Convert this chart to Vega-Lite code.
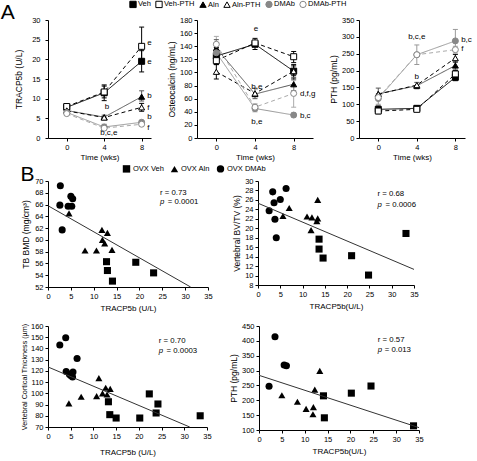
{
  "$schema": "https://vega.github.io/schema/vega-lite/v6.json",
  "background": "white",
  "padding": {"left": 0, "top": 0, "right": 0, "bottom": 0},
  "spacing": 2,
  "config": {
    "font": "Liberation Sans",
    "view": {"stroke": null},
    "axis": {"grid": false, "domainColor": "#000", "tickColor": "#000", "labelColor": "#000", "titleColor": "#000", "labelFontSize": 7.5, "titleFontSize": 8.5, "titleFontWeight": "normal", "tickSize": 3, "labelPadding": 2, "titlePadding": 3, "labelFlush": false, "labelOverlap": false, "tickCount": 40},
    "axisX": {"titleFontSize": 8},
    "legend": {"labelFontSize": 7.5, "labelColor": "#000", "padding": 0},
    "title": {"fontSize": 21, "fontWeight": "normal", "anchor": "start", "frame": "bounds", "color": "#000"}
  },
  "datasets": {
    "tracp": [
      {"g": "Veh", "w": 0, "v": 7.8, "lo": 7.0, "hi": 8.6},
      {"g": "Veh", "w": 4, "v": 11.5, "lo": 9.5, "hi": 13.5},
      {"g": "Veh", "w": 8, "v": 19.5, "lo": 16.8, "hi": 22.2},
      {"g": "Veh-PTH", "w": 0, "v": 8.0},
      {"g": "Veh-PTH", "w": 4, "v": 11.7, "lo": 10.2, "hi": 13.2},
      {"g": "Veh-PTH", "w": 8, "v": 23.3, "lo": 19.3, "hi": 28.2},
      {"g": "Aln", "w": 0, "v": 7.0},
      {"g": "Aln", "w": 4, "v": 5.3, "lo": 4.8, "hi": 5.8},
      {"g": "Aln", "w": 8, "v": 10.5, "lo": 9.4, "hi": 12.0},
      {"g": "Aln-PTH", "w": 0, "v": 6.9},
      {"g": "Aln-PTH", "w": 4, "v": 5.2},
      {"g": "Aln-PTH", "w": 8, "v": 7.8, "lo": 6.8, "hi": 8.8},
      {"g": "DMAb", "w": 0, "v": 6.5, "lo": 5.9, "hi": 7.1},
      {"g": "DMAb", "w": 4, "v": 2.8, "lo": 2.0, "hi": 3.5},
      {"g": "DMAb", "w": 8, "v": 4.0, "lo": 3.5, "hi": 4.5},
      {"g": "DMAb-PTH", "w": 0, "v": 6.2},
      {"g": "DMAb-PTH", "w": 4, "v": 2.5},
      {"g": "DMAb-PTH", "w": 8, "v": 3.5}
    ],
    "osteo": [
      {"g": "Veh", "w": 0, "v": 125, "lo": 112, "hi": 138},
      {"g": "Veh", "w": 4, "v": 143, "lo": 135, "hi": 152},
      {"g": "Veh", "w": 8, "v": 102, "lo": 90, "hi": 112},
      {"g": "Veh-PTH", "w": 0, "v": 118},
      {"g": "Veh-PTH", "w": 4, "v": 145},
      {"g": "Veh-PTH", "w": 8, "v": 124, "lo": 115, "hi": 132},
      {"g": "Aln", "w": 0, "v": 137, "lo": 125, "hi": 150},
      {"g": "Aln", "w": 4, "v": 67, "lo": 60, "hi": 76},
      {"g": "Aln", "w": 8, "v": 82, "lo": 72, "hi": 92},
      {"g": "Aln-PTH", "w": 0, "v": 101, "lo": 90, "hi": 112},
      {"g": "Aln-PTH", "w": 4, "v": 68},
      {"g": "Aln-PTH", "w": 8, "v": 102, "lo": 95, "hi": 110},
      {"g": "DMAb", "w": 0, "v": 130},
      {"g": "DMAb", "w": 4, "v": 45, "lo": 40, "hi": 52},
      {"g": "DMAb", "w": 8, "v": 35, "lo": 32, "hi": 38},
      {"g": "DMAb-PTH", "w": 0, "v": 143, "lo": 130, "hi": 155},
      {"g": "DMAb-PTH", "w": 4, "v": 47},
      {"g": "DMAb-PTH", "w": 8, "v": 68, "lo": 47, "hi": 88}
    ],
    "pth": [
      {"g": "Veh", "w": 0, "v": 85, "lo": 75, "hi": 95},
      {"g": "Veh", "w": 4, "v": 88, "lo": 82, "hi": 94},
      {"g": "Veh", "w": 8, "v": 180, "lo": 170, "hi": 190},
      {"g": "Veh-PTH", "w": 0, "v": 80, "lo": 72, "hi": 88},
      {"g": "Veh-PTH", "w": 4, "v": 85, "lo": 80, "hi": 90},
      {"g": "Veh-PTH", "w": 8, "v": 190, "lo": 180, "hi": 200},
      {"g": "Aln", "w": 0, "v": 131, "lo": 115, "hi": 148},
      {"g": "Aln", "w": 4, "v": 155, "lo": 146, "hi": 165},
      {"g": "Aln", "w": 8, "v": 215, "lo": 202, "hi": 228},
      {"g": "Aln-PTH", "w": 0, "v": 130},
      {"g": "Aln-PTH", "w": 4, "v": 157},
      {"g": "Aln-PTH", "w": 8, "v": 237, "lo": 225, "hi": 248},
      {"g": "DMAb", "w": 0, "v": 117, "lo": 100, "hi": 130},
      {"g": "DMAb", "w": 4, "v": 247, "lo": 218, "hi": 276},
      {"g": "DMAb", "w": 8, "v": 288, "lo": 265, "hi": 322},
      {"g": "DMAb-PTH", "w": 0, "v": 120},
      {"g": "DMAb-PTH", "w": 4, "v": 247},
      {"g": "DMAb-PTH", "w": 8, "v": 262, "lo": 252, "hi": 272}
    ],
    "bmd": [
      {"grp": "OVX DMAb", "t": 2.7, "v": 69.2}, {"grp": "OVX DMAb", "t": 2.6, "v": 65.9}, {"grp": "OVX DMAb", "t": 5.0, "v": 67.4}, {"grp": "OVX DMAb", "t": 5.4, "v": 67.0}, {"grp": "OVX DMAb", "t": 4.4, "v": 65.7}, {"grp": "OVX DMAb", "t": 5.2, "v": 65.7}, {"grp": "OVX DMAb", "t": 3.1, "v": 61.7},
      {"grp": "OVX Aln", "t": 4.6, "v": 64.5}, {"grp": "OVX Aln", "t": 11.8, "v": 61.7}, {"grp": "OVX Aln", "t": 13.0, "v": 61.2}, {"grp": "OVX Aln", "t": 11.9, "v": 60.0}, {"grp": "OVX Aln", "t": 12.4, "v": 59.4}, {"grp": "OVX Aln", "t": 8.1, "v": 58.2}, {"grp": "OVX Aln", "t": 10.6, "v": 58.2}, {"grp": "OVX Aln", "t": 14.0, "v": 58.3},
      {"grp": "OVX Veh", "t": 12.8, "v": 56.3}, {"grp": "OVX Veh", "t": 13.0, "v": 54.8}, {"grp": "OVX Veh", "t": 14.1, "v": 53.0}, {"grp": "OVX Veh", "t": 19.2, "v": 56.2}, {"grp": "OVX Veh", "t": 23.1, "v": 54.4}
    ],
    "bvtv": [
      {"grp": "OVX DMAb", "t": 3.3, "v": 27.7}, {"grp": "OVX DMAb", "t": 6.3, "v": 28.4}, {"grp": "OVX DMAb", "t": 3.6, "v": 25.4}, {"grp": "OVX DMAb", "t": 5.0, "v": 26.1}, {"grp": "OVX DMAb", "t": 2.5, "v": 23.7}, {"grp": "OVX DMAb", "t": 3.8, "v": 21.9}, {"grp": "OVX DMAb", "t": 4.1, "v": 18.0},
      {"grp": "OVX Aln", "t": 7.0, "v": 24.3}, {"grp": "OVX Aln", "t": 5.6, "v": 22.6}, {"grp": "OVX Aln", "t": 11.0, "v": 22.5}, {"grp": "OVX Aln", "t": 12.1, "v": 22.3}, {"grp": "OVX Aln", "t": 13.4, "v": 26.0}, {"grp": "OVX Aln", "t": 13.4, "v": 22.1}, {"grp": "OVX Aln", "t": 13.2, "v": 21.5}, {"grp": "OVX Aln", "t": 11.9, "v": 19.6},
      {"grp": "OVX Veh", "t": 13.7, "v": 17.7}, {"grp": "OVX Veh", "t": 13.7, "v": 15.6}, {"grp": "OVX Veh", "t": 14.6, "v": 13.7}, {"grp": "OVX Veh", "t": 21.0, "v": 14.2}, {"grp": "OVX Veh", "t": 24.8, "v": 10.1}, {"grp": "OVX Veh", "t": 33.2, "v": 18.9}
    ],
    "cort": [
      {"grp": "OVX DMAb", "t": 2.6, "v": 143}, {"grp": "OVX DMAb", "t": 3.9, "v": 149.5}, {"grp": "OVX DMAb", "t": 6.4, "v": 131}, {"grp": "OVX DMAb", "t": 4.0, "v": 119.5}, {"grp": "OVX DMAb", "t": 4.7, "v": 117}, {"grp": "OVX DMAb", "t": 5.5, "v": 119}, {"grp": "OVX DMAb", "t": 5.0, "v": 116}, {"grp": "OVX DMAb", "t": 5.4, "v": 114.5},
      {"grp": "OVX Aln", "t": 4.6, "v": 91}, {"grp": "OVX Aln", "t": 7.3, "v": 97}, {"grp": "OVX Aln", "t": 10.7, "v": 97.5}, {"grp": "OVX Aln", "t": 11.2, "v": 113.5}, {"grp": "OVX Aln", "t": 12.0, "v": 100}, {"grp": "OVX Aln", "t": 12.7, "v": 105}, {"grp": "OVX Aln", "t": 13.0, "v": 99}, {"grp": "OVX Aln", "t": 13.7, "v": 104},
      {"grp": "OVX Veh", "t": 13.3, "v": 92.5}, {"grp": "OVX Veh", "t": 13.6, "v": 81}, {"grp": "OVX Veh", "t": 15.0, "v": 78}, {"grp": "OVX Veh", "t": 20.2, "v": 78}, {"grp": "OVX Veh", "t": 22.3, "v": 99.5}, {"grp": "OVX Veh", "t": 23.8, "v": 82.5}, {"grp": "OVX Veh", "t": 24.2, "v": 90.5}, {"grp": "OVX Veh", "t": 33.5, "v": 80}
    ],
    "pthb": [
      {"grp": "OVX DMAb", "t": 3.5, "v": 414}, {"grp": "OVX DMAb", "t": 5.5, "v": 319}, {"grp": "OVX DMAb", "t": 6.0, "v": 316}, {"grp": "OVX DMAb", "t": 2.2, "v": 247},
      {"grp": "OVX Aln", "t": 5.0, "v": 217}, {"grp": "OVX Aln", "t": 8.4, "v": 195}, {"grp": "OVX Aln", "t": 10.3, "v": 171}, {"grp": "OVX Aln", "t": 11.9, "v": 177}, {"grp": "OVX Aln", "t": 11.8, "v": 153}, {"grp": "OVX Aln", "t": 12.2, "v": 236}, {"grp": "OVX Aln", "t": 13.3, "v": 299},
      {"grp": "OVX Veh", "t": 14.1, "v": 215}, {"grp": "OVX Veh", "t": 14.3, "v": 141}, {"grp": "OVX Veh", "t": 20.2, "v": 224}, {"grp": "OVX Veh", "t": 24.5, "v": 248}, {"grp": "OVX Veh", "t": 33.8, "v": 114}
    ]
  },
  "vconcat": [
    {
      "title": {"text": "A", "offset": -23, "dx": -14},
      "bounds": "flush",
      "spacing": 46,
      "hconcat": [
        {
          "width": 103, "height": 118,
          "data": {"name": "tracp"},
          "layer": [
            {"mark": {"type": "line", "strokeWidth": 1},
             "encoding": {
               "x": {"field": "w", "type": "quantitative", "scale": {"domain": [-1.2, 8.9]}, "axis": {"values": [0, 4, 8], "format": "d", "title": "Time (wks)", "labelOverlap": false, "tickCount": 40}},
               "y": {"field": "v", "type": "quantitative", "scale": {"domain": [0, 30]}, "axis": {"values": [0, 5, 10, 15, 20, 25, 30], "format": "d", "title": "TRACP5b (U/L)", "labelOverlap": false, "tickCount": 40, "labelPadding": 5, "titlePadding": 8}},
               "color": {"field": "g", "type": "nominal", "scale": {"domain": ["Veh-PTH", "Veh", "Aln", "Aln-PTH", "DMAb", "DMAb-PTH"], "range": ["#000", "#000", "#555", "#000", "#999", "#aaa"]}, "legend": null},
               "strokeDash": {"field": "g", "type": "nominal", "scale": {"domain": ["Aln", "Veh", "Veh-PTH", "Aln-PTH", "DMAb", "DMAb-PTH"], "range": [[1, 0], [1, 0], [4, 3], [4, 3], [1, 0], [4, 3]]}, "legend": null}
             }},
            {"transform": [{"filter": "isValid(datum.lo)"}], "mark": {"type": "rule", "strokeWidth": 1},
             "encoding": {"x": {"field": "w", "type": "quantitative"}, "y": {"field": "lo", "type": "quantitative"}, "y2": {"field": "hi"}, "color": {"field": "g", "type": "nominal", "legend": null}}},
            {"transform": [{"filter": "isValid(datum.lo)"}], "mark": {"type": "tick", "orient": "horizontal", "size": 5, "thickness": 1, "opacity": 1},
             "encoding": {"x": {"field": "w", "type": "quantitative"}, "y": {"field": "lo", "type": "quantitative"}, "color": {"field": "g", "type": "nominal", "legend": null}}},
            {"transform": [{"filter": "isValid(datum.lo)"}], "mark": {"type": "tick", "orient": "horizontal", "size": 5, "thickness": 1, "opacity": 1},
             "encoding": {"x": {"field": "w", "type": "quantitative"}, "y": {"field": "hi", "type": "quantitative"}, "color": {"field": "g", "type": "nominal", "legend": null}}},
            {"mark": {"type": "point", "size": 36, "opacity": 1, "strokeWidth": 1},
             "encoding": {
               "x": {"field": "w", "type": "quantitative"},
               "y": {"field": "v", "type": "quantitative"},
               "shape": {"field": "g", "type": "nominal", "scale": {"domain": ["Veh", "Veh-PTH", "Aln", "Aln-PTH", "DMAb", "DMAb-PTH"], "range": ["square", "square", "triangle-up", "triangle-up", "circle", "circle"]}, "legend": {"title": null, "orient": "none", "legendX": 81, "legendY": -20, "direction": "horizontal", "symbolSize": 40, "labelFontSize": 7.5, "columnPadding": 2, "labelOffset": 1, "symbolStrokeWidth": 1}},
               "fill": {"field": "g", "type": "nominal", "scale": {"domain": ["Veh", "Veh-PTH", "Aln", "Aln-PTH", "DMAb", "DMAb-PTH"], "range": ["#000", "#fff", "#000", "#fff", "#888", "#fff"]}, "legend": {"title": null, "orient": "none", "legendX": 81, "legendY": -20, "direction": "horizontal", "symbolSize": 40, "labelFontSize": 7.5, "columnPadding": 2, "labelOffset": 1, "symbolStrokeWidth": 1}},
               "stroke": {"field": "g", "type": "nominal", "scale": {"domain": ["Veh", "Veh-PTH", "Aln", "Aln-PTH", "DMAb", "DMAb-PTH"], "range": ["#000", "#000", "#000", "#000", "#888", "#888"]}, "legend": {"title": null, "orient": "none", "legendX": 81, "legendY": -20, "direction": "horizontal", "symbolSize": 40, "labelFontSize": 7.5, "columnPadding": 2, "labelOffset": 1, "symbolStrokeWidth": 1}}
             }},
            {"data": {"values": [{"x": 8.6, "y": 24.2, "t": "e"}, {"x": 8.6, "y": 19.3, "t": "e"}, {"x": 8.6, "y": 10.8, "t": "b"}, {"x": 8.6, "y": 7.6, "t": "f"}, {"x": 8.6, "y": 5.3, "t": "b"}, {"x": 8.6, "y": 2.6, "t": "f"}]},
             "mark": {"type": "text", "fontSize": 8, "align": "left"},
             "encoding": {"x": {"field": "x", "type": "quantitative"}, "y": {"field": "y", "type": "quantitative"}, "text": {"field": "t"}}},
            {"data": {"values": [{"x": 4.3, "y": 7.8, "t": "b"}, {"x": 4.5, "y": 1.2, "t": "b,c,e"}]},
             "mark": {"type": "text", "fontSize": 8, "align": "center"},
             "encoding": {"x": {"field": "x", "type": "quantitative"}, "y": {"field": "y", "type": "quantitative"}, "text": {"field": "t"}}}
          ]
        },
        {
          "width": 116, "height": 118,
          "data": {"name": "osteo"},
          "layer": [
            {"mark": {"type": "line", "strokeWidth": 1},
             "encoding": {
               "x": {"field": "w", "type": "quantitative", "scale": {"domain": [-1.14, 10]}, "axis": {"values": [0, 4, 8], "format": "d", "title": "Time (wks)", "labelOverlap": false, "tickCount": 40}},
               "y": {"field": "v", "type": "quantitative", "scale": {"domain": [0, 180]}, "axis": {"values": [0, 20, 40, 60, 80, 100, 120, 140, 160, 180], "format": "d", "title": "Osteocalcin (ng/mL)", "labelOverlap": false, "tickCount": 40}},
               "color": {"field": "g", "type": "nominal", "legend": null},
               "strokeDash": {"field": "g", "type": "nominal", "legend": null}
             }},
            {"transform": [{"filter": "isValid(datum.lo)"}], "mark": {"type": "rule", "strokeWidth": 1},
             "encoding": {"x": {"field": "w", "type": "quantitative"}, "y": {"field": "lo", "type": "quantitative"}, "y2": {"field": "hi"}, "color": {"field": "g", "type": "nominal", "legend": null}}},
            {"transform": [{"filter": "isValid(datum.lo)"}], "mark": {"type": "tick", "orient": "horizontal", "size": 5, "thickness": 1, "opacity": 1},
             "encoding": {"x": {"field": "w", "type": "quantitative"}, "y": {"field": "lo", "type": "quantitative"}, "color": {"field": "g", "type": "nominal", "legend": null}}},
            {"transform": [{"filter": "isValid(datum.lo)"}], "mark": {"type": "tick", "orient": "horizontal", "size": 5, "thickness": 1, "opacity": 1},
             "encoding": {"x": {"field": "w", "type": "quantitative"}, "y": {"field": "hi", "type": "quantitative"}, "color": {"field": "g", "type": "nominal", "legend": null}}},
            {"mark": {"type": "point", "size": 36, "opacity": 1, "strokeWidth": 1},
             "encoding": {
               "x": {"field": "w", "type": "quantitative"},
               "y": {"field": "v", "type": "quantitative"},
               "shape": {"field": "g", "type": "nominal"},
               "fill": {"field": "g", "type": "nominal"},
               "stroke": {"field": "g", "type": "nominal"}
             }},
            {"data": {"values": [{"x": 8.65, "y": 67, "t": "d,f,g"}, {"x": 8.65, "y": 34, "t": "b,c"}]},
             "mark": {"type": "text", "fontSize": 8, "align": "left"},
             "encoding": {"x": {"field": "x", "type": "quantitative"}, "y": {"field": "y", "type": "quantitative"}, "text": {"field": "t"}}},
            {"data": {"values": [{"x": 4.1, "y": 166, "t": "e"}, {"x": 4.2, "y": 78, "t": "b,e"}, {"x": 4.2, "y": 25, "t": "b,e"}]},
             "mark": {"type": "text", "fontSize": 8, "align": "center"},
             "encoding": {"x": {"field": "x", "type": "quantitative"}, "y": {"field": "y", "type": "quantitative"}, "text": {"field": "t"}}}
          ]
        },
        {
          "width": 106, "height": 118,
          "data": {"name": "pth"},
          "layer": [
            {"mark": {"type": "line", "strokeWidth": 1},
             "encoding": {
               "x": {"field": "w", "type": "quantitative", "scale": {"domain": [-1.98, 8.5]}, "axis": {"values": [0, 4, 8], "format": "d", "title": "Time (wks)", "labelOverlap": false, "tickCount": 40}},
               "y": {"field": "v", "type": "quantitative", "scale": {"domain": [0, 350]}, "axis": {"values": [0, 50, 100, 150, 200, 250, 300, 350], "format": "d", "title": "PTH (pg/mL)", "labelOverlap": false, "tickCount": 40}},
               "color": {"field": "g", "type": "nominal", "legend": null},
               "strokeDash": {"field": "g", "type": "nominal", "legend": null}
             }},
            {"transform": [{"filter": "isValid(datum.lo)"}], "mark": {"type": "rule", "strokeWidth": 1},
             "encoding": {"x": {"field": "w", "type": "quantitative"}, "y": {"field": "lo", "type": "quantitative"}, "y2": {"field": "hi"}, "color": {"field": "g", "type": "nominal", "legend": null}}},
            {"transform": [{"filter": "isValid(datum.lo)"}], "mark": {"type": "tick", "orient": "horizontal", "size": 5, "thickness": 1, "opacity": 1},
             "encoding": {"x": {"field": "w", "type": "quantitative"}, "y": {"field": "lo", "type": "quantitative"}, "color": {"field": "g", "type": "nominal", "legend": null}}},
            {"transform": [{"filter": "isValid(datum.lo)"}], "mark": {"type": "tick", "orient": "horizontal", "size": 5, "thickness": 1, "opacity": 1},
             "encoding": {"x": {"field": "w", "type": "quantitative"}, "y": {"field": "hi", "type": "quantitative"}, "color": {"field": "g", "type": "nominal", "legend": null}}},
            {"mark": {"type": "point", "size": 36, "opacity": 1, "strokeWidth": 1},
             "encoding": {
               "x": {"field": "w", "type": "quantitative"},
               "y": {"field": "v", "type": "quantitative"},
               "shape": {"field": "g", "type": "nominal"},
               "fill": {"field": "g", "type": "nominal"},
               "stroke": {"field": "g", "type": "nominal"}
             }},
            {"data": {"values": [{"x": 8.6, "y": 290, "t": "b,c"}, {"x": 8.6, "y": 263, "t": "f"}]},
             "mark": {"type": "text", "fontSize": 8, "align": "left"},
             "encoding": {"x": {"field": "x", "type": "quantitative"}, "y": {"field": "y", "type": "quantitative"}, "text": {"field": "t"}}},
            {"data": {"values": [{"x": 4.0, "y": 300, "t": "b,c,e"}, {"x": 4.0, "y": 180, "t": "b"}]},
             "mark": {"type": "text", "fontSize": 8, "align": "center"},
             "encoding": {"x": {"field": "x", "type": "quantitative"}, "y": {"field": "y", "type": "quantitative"}, "text": {"field": "t"}}}
          ]
        }
      ]
    },
    {
      "title": {"text": "B", "offset": -21},
      "spacing": 9,
      "vconcat": [
        {
          "bounds": "flush",
          "spacing": 50,
          "hconcat": [
            {
              "width": 160, "height": 106,
              "layer": [
                {"data": {"name": "bmd"}, "mark": {"type": "point", "filled": true, "size": 50, "color": "#000", "opacity": 1},
                 "encoding": {
                   "x": {"field": "t", "type": "quantitative", "scale": {"domain": [0, 35]}, "axis": {"values": [0, 5, 10, 15, 20, 25, 30, 35], "format": "d", "title": "TRACP5b (U/L)", "labelOverlap": false, "tickCount": 40, "titlePadding": 5}},
                   "y": {"field": "v", "type": "quantitative", "scale": {"domain": [52, 70]}, "axis": {"values": [52, 54, 56, 58, 60, 62, 64, 66, 68, 70], "format": "d", "title": "TB BMD (mg/cm³)", "labelOverlap": false, "tickCount": 40, "titlePadding": 4}},
                   "shape": {"field": "grp", "type": "nominal", "scale": {"domain": ["OVX Veh", "OVX Aln", "OVX DMAb"], "range": ["square", "triangle-up", "circle"]}, "legend": {"title": null, "orient": "none", "legendX": 74, "legendY": -17, "direction": "horizontal", "symbolSize": 55, "symbolFillColor": "#000", "symbolStrokeColor": "#000", "labelFontSize": 7.5, "columnPadding": 3, "labelOffset": 2}}
                 }},
                {"data": {"values": [{"t": 0, "v": 65.8}, {"t": 31.2, "v": 52}]}, "mark": {"type": "line", "color": "#333", "strokeWidth": 1},
                 "encoding": {"x": {"field": "t", "type": "quantitative"}, "y": {"field": "v", "type": "quantitative"}}},
                {"data": {"values": [{"x": 24.5, "y": 68.0, "t": "r = 0.73"}, {"x": 26.2, "y": 66.5, "t": "= 0.0001"}]}, "mark": {"type": "text", "fontSize": 7.8, "align": "left"},
                 "encoding": {"x": {"field": "x", "type": "quantitative"}, "y": {"field": "y", "type": "quantitative"}, "text": {"field": "t"}}},
                {"data": {"values": [{"x": 24.5, "y": 66.5, "t": "p"}]}, "mark": {"type": "text", "fontSize": 7.8, "align": "left", "fontStyle": "italic"},
                 "encoding": {"x": {"field": "x", "type": "quantitative"}, "y": {"field": "y", "type": "quantitative"}, "text": {"field": "t"}}}
              ]
            },
            {
              "width": 156, "height": 104,
              "layer": [
                {"data": {"name": "bvtv"}, "mark": {"type": "point", "filled": true, "size": 50, "color": "#000", "opacity": 1},
                 "encoding": {
                   "x": {"field": "t", "type": "quantitative", "scale": {"domain": [0, 35]}, "axis": {"values": [0, 5, 10, 15, 20, 25, 30, 35], "format": "d", "title": "TRACP5b(U/L)", "labelOverlap": false, "tickCount": 40, "titlePadding": 5}},
                   "y": {"field": "v", "type": "quantitative", "scale": {"domain": [8, 30]}, "axis": {"values": [8, 10, 12, 14, 16, 18, 20, 22, 24, 26, 28, 30], "format": "d", "title": "Vertebral BV/TV (%)", "labelOverlap": false, "tickCount": 40}},
                   "shape": {"field": "grp", "type": "nominal"}
                 }},
                {"data": {"values": [{"t": 0, "v": 25.3}, {"t": 35, "v": 11.3}]}, "mark": {"type": "line", "color": "#333", "strokeWidth": 1},
                 "encoding": {"x": {"field": "t", "type": "quantitative"}, "y": {"field": "v", "type": "quantitative"}}},
                {"data": {"values": [{"x": 26.8, "y": 27.2, "t": "r = 0.68"}, {"x": 28.6, "y": 24.9, "t": "= 0.0006"}]}, "mark": {"type": "text", "fontSize": 7.8, "align": "left"},
                 "encoding": {"x": {"field": "x", "type": "quantitative"}, "y": {"field": "y", "type": "quantitative"}, "text": {"field": "t"}}},
                {"data": {"values": [{"x": 26.8, "y": 24.9, "t": "p"}]}, "mark": {"type": "text", "fontSize": 7.8, "align": "left", "fontStyle": "italic"},
                 "encoding": {"x": {"field": "x", "type": "quantitative"}, "y": {"field": "y", "type": "quantitative"}, "text": {"field": "t"}}}
              ]
            }
          ]
        },
        {
          "bounds": "flush",
          "spacing": 52,
          "hconcat": [
            {
              "width": 159, "height": 101,
              "layer": [
                {"data": {"name": "cort"}, "mark": {"type": "point", "filled": true, "size": 50, "color": "#000", "opacity": 1},
                 "encoding": {
                   "x": {"field": "t", "type": "quantitative", "scale": {"domain": [0, 35]}, "axis": {"values": [0, 5, 10, 15, 20, 25, 30, 35], "format": "d", "title": "TRACP5b (U/L)", "labelOverlap": false, "tickCount": 40, "titlePadding": 9}},
                   "y": {"field": "v", "type": "quantitative", "scale": {"domain": [70, 160]}, "axis": {"values": [70, 80, 90, 100, 110, 120, 130, 140, 150, 160], "format": "d", "title": "Vertebral Cortical Thickness (µm)", "labelOverlap": false, "tickCount": 40, "titleFontSize": 7.2, "titlePadding": 2}},
                   "shape": {"field": "grp", "type": "nominal"}
                 }},
                {"data": {"values": [{"t": 0, "v": 123.5}, {"t": 31.2, "v": 70}]}, "mark": {"type": "line", "color": "#333", "strokeWidth": 1},
                 "encoding": {"x": {"field": "t", "type": "quantitative"}, "y": {"field": "v", "type": "quantitative"}}},
                {"data": {"values": [{"x": 24.4, "y": 146.4, "t": "r = 0.70"}, {"x": 26.1, "y": 138, "t": "= 0.0003"}]}, "mark": {"type": "text", "fontSize": 7.8, "align": "left"},
                 "encoding": {"x": {"field": "x", "type": "quantitative"}, "y": {"field": "y", "type": "quantitative"}, "text": {"field": "t"}}},
                {"data": {"values": [{"x": 24.4, "y": 138, "t": "p"}]}, "mark": {"type": "text", "fontSize": 7.8, "align": "left", "fontStyle": "italic"},
                 "encoding": {"x": {"field": "x", "type": "quantitative"}, "y": {"field": "y", "type": "quantitative"}, "text": {"field": "t"}}}
              ]
            },
            {
              "width": 160, "height": 104,
              "layer": [
                {"data": {"name": "pthb"}, "mark": {"type": "point", "filled": true, "size": 50, "color": "#000", "opacity": 1},
                 "encoding": {
                   "x": {"field": "t", "type": "quantitative", "scale": {"domain": [0, 35]}, "axis": {"values": [0, 5, 10, 15, 20, 25, 30, 35], "format": "d", "title": "TRACP5b(U/L)", "labelOverlap": false, "tickCount": 40, "titlePadding": 5}},
                   "y": {"field": "v", "type": "quantitative", "scale": {"domain": [100, 450]}, "axis": {"values": [100, 150, 200, 250, 300, 350, 400, 450], "format": "d", "title": "PTH (pg/mL)", "labelOverlap": false, "tickCount": 40}},
                   "shape": {"field": "grp", "type": "nominal"}
                 }},
                {"data": {"values": [{"t": 0, "v": 284}, {"t": 35, "v": 108}]}, "mark": {"type": "line", "color": "#333", "strokeWidth": 1},
                 "encoding": {"x": {"field": "t", "type": "quantitative"}, "y": {"field": "v", "type": "quantitative"}}},
                {"data": {"values": [{"x": 26.0, "y": 403, "t": "r = 0.57"}, {"x": 27.5, "y": 369, "t": "= 0.013"}]}, "mark": {"type": "text", "fontSize": 7.8, "align": "left"},
                 "encoding": {"x": {"field": "x", "type": "quantitative"}, "y": {"field": "y", "type": "quantitative"}, "text": {"field": "t"}}},
                {"data": {"values": [{"x": 26.0, "y": 369, "t": "p"}]}, "mark": {"type": "text", "fontSize": 7.8, "align": "left", "fontStyle": "italic"},
                 "encoding": {"x": {"field": "x", "type": "quantitative"}, "y": {"field": "y", "type": "quantitative"}, "text": {"field": "t"}}}
              ]
            }
          ]
        }
      ]
    }
  ],
  "resolve": {
    "scale": {"shape": "independent", "fill": "independent", "stroke": "independent", "color": "independent", "strokeDash": "independent"},
    "legend": {"shape": "independent", "fill": "independent", "stroke": "independent", "color": "independent", "strokeDash": "independent"}
  }
}
